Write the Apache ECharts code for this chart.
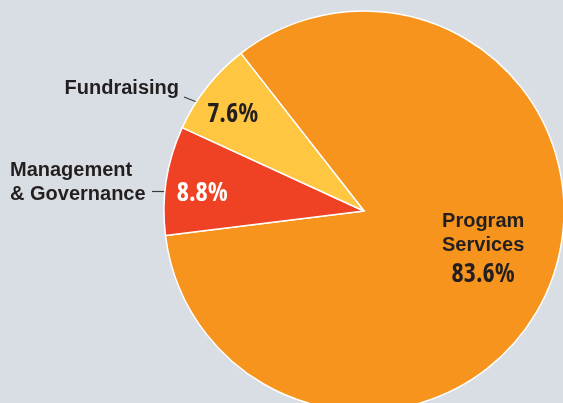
<!DOCTYPE html>
<html>
<head>
<meta charset="utf-8">
<script src="https://cdn.jsdelivr.net/npm/echarts@6/dist/echarts.min.js"></script>
<style>
  html, body { margin: 0; padding: 0; background: #d9dee4; }
  #chart { width: 563px; height: 403px; }
</style>
</head>
<body>
<div id="chart"></div>
<script>
// ---- data ----
const categories = ['Program Services', 'Management & Governance', 'Fundraising'];
const values = [83.6, 8.8, 7.6];
const nameLabels = ['Program\nServices', 'Management\n& Governance', 'Fundraising'];
const colors = ['#f7941d', '#ef4123', '#fec641'];

// ---- styles ----
const NAME_FONT = '"Liberation Sans", Arial, sans-serif';
const PCT_FONT = '"Open Sans", "Liberation Sans", sans-serif';
const textDark = '#231f20';

// inside-label offsets (pixel nudges from default inside position)
const pctOffsets = [[24, 0], [-60, -1.5], [-50.5, -33]];
const pctColors = [textDark, '#ffffff', textDark];

const chart = echarts.init(document.getElementById('chart'), null, { renderer: 'canvas' });

const center = [364, 211];
const radius = 200;
const startAngle = 128;

const mainData = categories.map((c, i) => ({
  name: c,
  value: values[i],
  itemStyle: { color: colors[i] },
  label: {
    offset: pctOffsets[i],
    formatter: i === 0
      ? '{n|Program}\n{n|Services}\n{p|' + values[i].toFixed(1) + '%}'
      : '{p|' + values[i].toFixed(1) + '%}',
    rich: {
      n: { fontFamily: NAME_FONT, fontWeight: 'bold', fontSize: 20, lineHeight: 24, color: textDark, align: 'center' },
      p: { fontFamily: PCT_FONT, fontWeight: 'bold condensed', fontSize: 26, lineHeight: 34, color: pctColors[i], align: 'center' }
    }
  }
}));

const nameData = categories.map((c, i) => ({
  name: c,
  value: values[i],
  label: { show: i > 0 },
  labelLine: { show: i > 0 }
}));

const option = {
  backgroundColor: '#d9dee4',
  animation: false,
  series: [
    {
      type: 'pie',
      center: center,
      radius: radius,
      startAngle: startAngle,
      clockwise: true,
      avoidLabelOverlap: false,
      silent: true,
      itemStyle: { borderColor: '#ffffff', borderWidth: 1.5 },
      label: { show: true, position: 'inside' },
      labelLine: { show: false },
      data: mainData
    },
    {
      type: 'pie',
      center: center,
      radius: radius,
      startAngle: startAngle,
      clockwise: true,
      avoidLabelOverlap: false,
      silent: true,
      itemStyle: { color: 'rgba(0,0,0,0)', borderWidth: 0 },
      label: {
        show: true,
        position: 'outside',
        formatter: p => nameLabels[p.dataIndex],
        fontFamily: NAME_FONT,
        fontWeight: 'bold',
        fontSize: 20,
        lineHeight: 24,
        color: textDark,
        align: 'left'
      },
      labelLine: { show: true, lineStyle: { color: '#3a3a3a', width: 1.2 } },
      labelLayout: function (params) {
        if (params.dataIndex === 2) {
          return {
            x: 179, y: 88, align: 'right', verticalAlign: 'middle',
            labelLinePoints: [[202, 104], [193, 100.5], [184, 97]]
          };
        }
        if (params.dataIndex === 1) {
          return {
            x: 10, y: 182, align: 'left', verticalAlign: 'middle',
            labelLinePoints: [[167, 191.5], [160, 191.5], [152, 191.5]]
          };
        }
        return {};
      },
      data: nameData
    }
  ]
};

chart.setOption(option);
</script>
</body>
</html>
